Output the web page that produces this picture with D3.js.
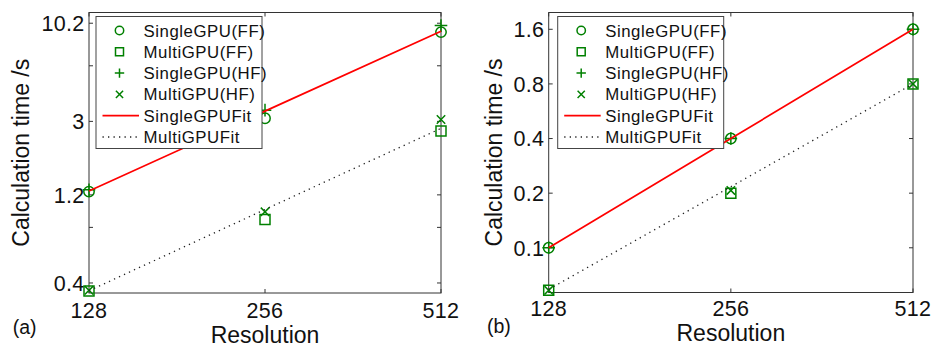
<!DOCTYPE html>
<html>
<head>
<meta charset="utf-8">
<script src="https://cdn.jsdelivr.net/npm/d3@7"></script>
<style>
  body { margin: 0; background: #fff; }
  text { font-family: "Liberation Sans", Arial, Helvetica, sans-serif; fill: #111; }
</style>
</head>
<body>
<script>
var svgWidth = 933;
var svgHeight = 343;

// x categories (log2 axis)
var resolutions = [128, 256, 512];
var xTickLabels = ["128", "256", "512"];
var legendNames = ["SingleGPU(FF)", "MultiGPU(FF)", "SingleGPU(HF)", "MultiGPU(HF)", "SingleGPUFit", "MultiGPUFit"];

// panel (a) values, seconds
var singleFF_a = [1.25, 3.12, 9.13];
var multiFF_a = [0.362, 0.884, 2.66];
var singleHF_a = [1.28, 3.45, 9.9];
var multiHF_a = [0.365, 0.971, 3.07];
var singleFit_a = [1.26, 3.41, 9.23];
var multiFit_a = [0.363, 1.0, 2.75];
var yDomain_a = [0.353, 11.66];
var yTicks_a = [0.4, 0.8, 1.2, 3, 6, 10.2];
var yTickLabels_a = ["0.4", "", "1.2", "3", "", "10.2"];

// panel (b) values, seconds
var singleFF_b = [0.1, 0.4, 1.6];
var multiFF_b = [0.0583, 0.2, 0.8];
var singleHF_b = [0.1, 0.4, 1.6];
var multiHF_b = [0.0583, 0.207, 0.8];
var singleFit_b = [0.1, 0.4, 1.6];
var multiFit_b = [0.059, 0.217, 0.8];
var yDomain_b = [0.0567, 1.98];
var yTicks_b = [0.1, 0.2, 0.4, 0.8, 1.6];
var yTickLabels_b = ["0.1", "0.2", "0.4", "0.8", "1.6"];

var green = "#008000";
var red = "#ff0000";
var axisColor = "#333";

var svg = d3.select("body")
  .append("svg")
  .attr("width", svgWidth)
  .attr("height", svgHeight);

// marker paths
function markerPath(type, s) {
  if (type === "circle") return d3.symbol().type(d3.symbolCircle).size(Math.PI * s * s)();
  if (type === "square") return `M${-s},${-s}H${s}V${s}H${-s}Z`;
  if (type === "plus") return `M${-s},0H${s}M0,${-s}V${s}`;
  if (type === "x") return `M${-s},${-s}L${s},${s}M${-s},${s}L${s},${-s}`;
}
var plotSize = { circle: 5.2, square: 5, plus: 6.3, x: 4.2 };
var legendSize = { circle: 4.2, square: 4, plus: 4.7, x: 3.6 };

var panels = [
  {
    tag: "(a)",
    box: { left: 89, right: 441, top: 12.5, bottom: 293 },
    series: [singleFF_a, multiFF_a, singleHF_a, multiHF_a],
    fits: [singleFit_a, multiFit_a],
    yDomain: yDomain_a, yTicks: yTicks_a, yTickLabels: yTickLabels_a,
    yTitleX: 29, tagX: 12.7, tagY: 334, xLabelY: 318, xTitleY: 342.5,
    legendX: 96
  },
  {
    tag: "(b)",
    box: { left: 548.7, right: 913, top: 12.5, bottom: 292.5 },
    series: [singleFF_b, multiFF_b, singleHF_b, multiHF_b],
    fits: [singleFit_b, multiFit_b],
    yDomain: yDomain_b, yTicks: yTicks_b, yTickLabels: yTickLabels_b,
    yTitleX: 502, tagX: 487, tagY: 333, xLabelY: 316, xTitleY: 341,
    legendX: 557.7
  }
];

var markerTypes = ["circle", "square", "plus", "x"];

panels.forEach(function(p) {
  var b = p.box;
  var g = svg.append("g");

  var xScale = d3.scaleLog().base(2)
    .domain([resolutions[0], resolutions[resolutions.length - 1]])
    .range([b.left, b.right]);
  var yScale = d3.scaleLog()
    .domain(p.yDomain)
    .range([b.bottom, b.top]);

  var tickLen = 4;

  // y ticks, both sides
  p.yTicks.forEach(function(t, i) {
    var y = yScale(t);
    g.append("line").attr("x1", b.left).attr("x2", b.left + tickLen)
      .attr("y1", y).attr("y2", y).attr("stroke", axisColor);
    g.append("line").attr("x1", b.right).attr("x2", b.right - tickLen)
      .attr("y1", y).attr("y2", y).attr("stroke", axisColor);
    g.append("text")
      .attr("x", b.left - 4.5)
      .attr("y", y)
      .attr("dy", "0.36em")
      .attr("text-anchor", "end")
      .style("font-size", "21.5px")
      .style("letter-spacing", "0.3px")
      .text(p.yTickLabels[i]);
  });

  // x ticks, both sides
  resolutions.forEach(function(r, i) {
    var x = xScale(r);
    g.append("line").attr("x1", x).attr("x2", x)
      .attr("y1", b.bottom).attr("y2", b.bottom - tickLen).attr("stroke", axisColor);
    g.append("line").attr("x1", x).attr("x2", x)
      .attr("y1", b.top).attr("y2", b.top + tickLen).attr("stroke", axisColor);
    g.append("text")
      .attr("x", x)
      .attr("y", p.xLabelY)
      .attr("text-anchor", "middle")
      .style("font-size", "21.5px")
      .style("letter-spacing", "0.3px")
      .text(xTickLabels[i]);
  });

  // axes box
  g.append("rect")
    .attr("x", b.left).attr("y", b.top)
    .attr("width", b.right - b.left).attr("height", b.bottom - b.top)
    .attr("fill", "none")
    .attr("stroke", axisColor)
    .attr("stroke-width", 1);

  // markers
  p.series.forEach(function(vals, si) {
    g.selectAll(null)
      .data(vals)
      .enter()
      .append("path")
      .attr("transform", (d, i) => `translate(${xScale(resolutions[i])},${yScale(d)})`)
      .attr("d", markerPath(markerTypes[si], plotSize[markerTypes[si]]))
      .attr("fill", "none")
      .attr("stroke", green)
      .attr("stroke-width", 1.5);
  });

  // fit lines
  var line = d3.line()
    .x((d, i) => xScale(resolutions[i]))
    .y(d => yScale(d));

  g.append("path")
    .datum(p.fits[0])
    .attr("d", line)
    .attr("fill", "none")
    .attr("stroke", red)
    .attr("stroke-width", 1.7);

  g.append("path")
    .datum(p.fits[1])
    .attr("d", line)
    .attr("fill", "none")
    .attr("stroke", "#222")
    .attr("stroke-width", 1.3)
    .attr("stroke-dasharray", "1.3 4.2");

  // axis titles
  g.append("text")
    .attr("transform", `translate(${p.yTitleX},${(b.top + b.bottom) / 2}) rotate(-90)`)
    .attr("text-anchor", "middle")
    .style("font-size", "23px")
    .text("Calculation time /s");

  g.append("text")
    .attr("x", (b.left + b.right) / 2)
    .attr("y", p.xTitleY)
    .attr("text-anchor", "middle")
    .style("font-size", "23px")
    .text("Resolution");

  g.append("text")
    .attr("x", p.tagX)
    .attr("y", p.tagY)
    .style("font-size", "19.5px")
    .text(p.tag);

  // legend
  var lx = p.legendX, ly = 16.5;
  var legend = g.append("g");
  legend.append("rect")
    .attr("x", lx).attr("y", ly)
    .attr("width", 166).attr("height", 132)
    .attr("fill", "#fff")
    .attr("stroke", "#444")
    .attr("stroke-width", 1);

  legendNames.forEach(function(name, i) {
    var ry = 30.5 + i * 21.3;
    if (i < 4) {
      legend.append("path")
        .attr("transform", `translate(${lx + 23.5},${ry})`)
        .attr("d", markerPath(markerTypes[i], legendSize[markerTypes[i]]))
        .attr("fill", "none")
        .attr("stroke", green)
        .attr("stroke-width", 1.5);
    } else {
      legend.append("line")
        .attr("x1", lx + 6.5).attr("x2", lx + 43)
        .attr("y1", ry).attr("y2", ry)
        .attr("stroke", i === 4 ? red : "#222")
        .attr("stroke-width", i === 4 ? 1.7 : 1.3)
        .attr("stroke-dasharray", i === 4 ? null : "1.3 4.2");
    }
    legend.append("text")
      .attr("x", lx + 47.5)
      .attr("y", ry)
      .attr("dy", "0.36em")
      .style("font-size", "16.8px")
      .style("letter-spacing", "0.55px")
      .text(name);
  });
});
</script>
</body>
</html>
